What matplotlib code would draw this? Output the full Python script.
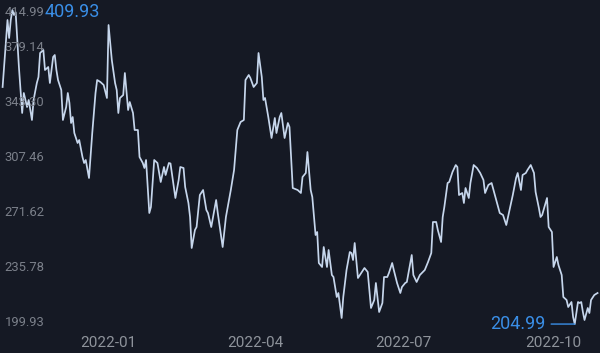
import matplotlib
matplotlib.use("Agg")
import matplotlib.pyplot as plt
import matplotlib.dates as mdates
import matplotlib.transforms as mtransforms
import pandas as pd

# daily close prices
dates = [
    "2021-10-28", "2021-10-31", "2021-11-01", "2021-11-02", "2021-11-03", "2021-11-04", "2021-11-05",
    "2021-11-07", "2021-11-09", "2021-11-10", "2021-11-12", "2021-11-13", "2021-11-15", "2021-11-16",
    "2021-11-18", "2021-11-19", "2021-11-20", "2021-11-22", "2021-11-23", "2021-11-25", "2021-11-26",
    "2021-11-28", "2021-11-29", "2021-11-30", "2021-12-01", "2021-12-03", "2021-12-04", "2021-12-06",
    "2021-12-07", "2021-12-08", "2021-12-09", "2021-12-10", "2021-12-11", "2021-12-13", "2021-12-14",
    "2021-12-16", "2021-12-17", "2021-12-18", "2021-12-20", "2021-12-22", "2021-12-24", "2021-12-25",
    "2021-12-27", "2021-12-29", "2021-12-31", "2022-01-01", "2022-01-03", "2022-01-05", "2022-01-06",
    "2022-01-07", "2022-01-08", "2022-01-10", "2022-01-11", "2022-01-13", "2022-01-14", "2022-01-16",
    "2022-01-17", "2022-01-19", "2022-01-20", "2022-01-22", "2022-01-23", "2022-01-24", "2022-01-26",
    "2022-01-27", "2022-01-29", "2022-01-31", "2022-02-02", "2022-02-04", "2022-02-05", "2022-02-07",
    "2022-02-08", "2022-02-10", "2022-02-11", "2022-02-13", "2022-02-14", "2022-02-16", "2022-02-17",
    "2022-02-19", "2022-02-20", "2022-02-21", "2022-02-23", "2022-02-24", "2022-02-26", "2022-02-28",
    "2022-03-02", "2022-03-03", "2022-03-05", "2022-03-08", "2022-03-09", "2022-03-12", "2022-03-14",
    "2022-03-17", "2022-03-19", "2022-03-21", "2022-03-23", "2022-03-25", "2022-03-26", "2022-03-28",
    "2022-03-29", "2022-03-31", "2022-04-02", "2022-04-03", "2022-04-05", "2022-04-06", "2022-04-07",
    "2022-04-09", "2022-04-11", "2022-04-13", "2022-04-14", "2022-04-16", "2022-04-17", "2022-04-19",
    "2022-04-21", "2022-04-22", "2022-04-24", "2022-04-27", "2022-04-29", "2022-04-30", "2022-05-02",
    "2022-05-03", "2022-05-05", "2022-05-06", "2022-05-08", "2022-05-09", "2022-05-10", "2022-05-12",
    "2022-05-13", "2022-05-15", "2022-05-16", "2022-05-18", "2022-05-19", "2022-05-21", "2022-05-22",
    "2022-05-24", "2022-05-25", "2022-05-27", "2022-05-29", "2022-05-30", "2022-05-31", "2022-06-01",
    "2022-06-03", "2022-06-05", "2022-06-07", "2022-06-09", "2022-06-11", "2022-06-13", "2022-06-14",
    "2022-06-16", "2022-06-18", "2022-06-19", "2022-06-21", "2022-06-22", "2022-06-24", "2022-06-25",
    "2022-06-27", "2022-06-29", "2022-06-30", "2022-07-02", "2022-07-03", "2022-07-06", "2022-07-07",
    "2022-07-09", "2022-07-11", "2022-07-14", "2022-07-16", "2022-07-18", "2022-07-19", "2022-07-21",
    "2022-07-22", "2022-07-24", "2022-07-25", "2022-07-26", "2022-07-28", "2022-07-29", "2022-07-31",
    "2022-08-02", "2022-08-03", "2022-08-04", "2022-08-06", "2022-08-07", "2022-08-08", "2022-08-10",
    "2022-08-11", "2022-08-13", "2022-08-15", "2022-08-17", "2022-08-19", "2022-08-20", "2022-08-22",
    "2022-08-24", "2022-08-26", "2022-08-29", "2022-08-31", "2022-09-02", "2022-09-04", "2022-09-06",
    "2022-09-08", "2022-09-09", "2022-09-11", "2022-09-12", "2022-09-14", "2022-09-15", "2022-09-17",
    "2022-09-19", "2022-09-20", "2022-09-22", "2022-09-23", "2022-09-24", "2022-09-27", "2022-09-28",
    "2022-09-30", "2022-10-01", "2022-10-03", "2022-10-04", "2022-10-06", "2022-10-07", "2022-10-09",
    "2022-10-10", "2022-10-12", "2022-10-13", "2022-10-14", "2022-10-16", "2022-10-17", "2022-10-18",
    "2022-10-19", "2022-10-20", "2022-10-22", "2022-10-23", "2022-10-24", "2022-10-26", "2022-10-28",
]
prices = [
    359.72, 403.45, 391.70, 403.45, 409.93, 406.71, 408.50,
    372.77, 342.74, 355.80, 346.66, 351.23, 338.18, 351.23,
    362.33, 366.24, 381.91, 383.86, 370.81, 372.77, 362.33,
    379.30, 380.60, 370.81, 364.28, 357.76, 338.18, 346.66,
    355.80, 349.27, 336.22, 340.13, 329.69, 323.16, 325.12,
    314.03, 310.11, 312.07, 300.32, 329.69, 355.80, 364.28,
    362.98, 361.02, 352.54, 400.18, 377.34, 362.33, 357.76,
    342.74, 352.54, 354.49, 368.85, 344.70, 349.92, 342.74,
    331.65, 331.65, 314.03, 310.11, 306.85, 312.07, 277.47,
    281.39, 312.07, 310.11, 297.71, 307.50, 302.28, 310.11,
    309.80, 294.45, 287.27, 299.01, 307.50, 306.85, 294.45,
    284.00, 274.86, 254.63, 266.38, 268.34, 289.22, 292.49,
    279.43, 277.47, 268.34, 285.96, 277.47, 255.28, 274.86,
    292.49, 305.54, 331.65, 336.87, 338.18, 364.28, 367.55,
    365.59, 359.72, 362.33, 381.91, 366.24, 351.23, 352.54,
    340.13, 326.43, 339.48, 329.69, 340.13, 342.74, 326.43,
    336.22, 333.61, 293.79, 292.49, 290.53, 300.97, 303.58,
    317.29, 292.49, 287.92, 263.12, 265.07, 244.84, 242.23,
    255.28, 242.23, 253.32, 237.01, 235.70, 222.65, 225.26,
    208.94, 222.65, 240.27, 252.02, 251.37, 246.80, 257.89,
    235.05, 238.31, 241.58, 238.97, 215.47, 220.69, 231.79,
    212.86, 218.73, 235.70, 235.70, 238.31, 244.84, 240.27,
    231.79, 225.26, 229.18, 231.79, 232.44, 250.06, 237.01,
    232.44, 237.01, 240.27, 245.49, 251.37, 271.60, 271.60,
    266.38, 258.55, 274.86, 281.39, 297.06, 297.71, 304.24,
    308.80, 307.50, 289.22, 290.53, 284.00, 293.79, 287.27,
    297.06, 308.80, 306.85, 303.58, 299.01, 290.53, 295.75,
    297.06, 289.22, 277.47, 276.17, 269.64, 279.43, 289.22,
    300.32, 303.58, 292.49, 302.28, 303.58, 305.54, 308.80,
    303.58, 291.18, 280.74, 274.86, 276.17, 287.27, 268.34,
    265.07, 242.23, 248.76, 243.53, 237.01, 222.65, 220.69,
    216.12, 219.38, 209.59, 204.99, 219.38, 218.73, 219.38,
    212.86, 207.64, 215.47, 212.20, 220.69, 223.95, 225.26,
]

y_ticks = [414.99, 379.14, 343.30, 307.46, 271.62, 235.78, 199.93]
x_ticks = ["2022-01-01", "2022-04-01", "2022-07-01", "2022-10-01"]
x_labels = ["2022-01", "2022-04", "2022-07", "2022-10"]

df = pd.DataFrame({"date": pd.to_datetime(dates), "price": prices})

bg = "#151924"
line_col = "#c6d6ec"
blue = "#3a8ee6"

plt.rcParams["font.family"] = ["Roboto", "DejaVu Sans"]

fig = plt.figure(figsize=(6, 3.53), dpi=100, facecolor=bg)
ax = fig.add_axes([0, 0, 1, 1])
ax.set_facecolor(bg)

ax.plot(df["date"], df["price"], color=line_col, lw=1.25)

x0 = pd.Timestamp("2022-01-01")
ax.set_xlim(x0 - pd.Timedelta(days=66.6), x0 + pd.Timedelta(days=301.5))
ax.set_ylim(186.10, 416.50)
ax.axis("off")

# y labels sit inside the plot, just above their value
ytrans = mtransforms.blended_transform_factory(ax.transAxes, ax.transData)
for i, v in enumerate(y_ticks):
    dy = -7 if i == 0 else 7
    ax.annotate(f"{v:.2f}", xy=(0.008, v), xycoords=ytrans, xytext=(0, dy),
                textcoords="offset points", ha="left", va="center",
                color="#7b808a", fontsize=9.4)

xtrans = mtransforms.blended_transform_factory(ax.transData, ax.transAxes)
for d, lab in zip(x_ticks, x_labels):
    ax.text(mdates.date2num(pd.Timestamp(d)), 0.028, lab, transform=xtrans,
            ha="center", va="center", color="#8e939b", fontsize=11)

# max / min markers
imax = df["price"].idxmax()
imin = df["price"].idxmin()
ax.annotate(f"{df['price'][imax]:.2f}", xy=(df["date"][imax], df["price"][imax]),
            xytext=(23, -1.5), textcoords="offset points", ha="left", va="center",
            color=blue, fontsize=13)
ax.annotate(f"{df['price'][imin]:.2f}", xy=(df["date"][imin], df["price"][imin]),
            xytext=(-21, 0), textcoords="offset points", ha="right", va="center",
            color=blue, fontsize=13,
            arrowprops=dict(arrowstyle="-", color=blue, lw=1, shrinkA=2, shrinkB=0))

fig.savefig("out.png", dpi=100, facecolor=bg)
